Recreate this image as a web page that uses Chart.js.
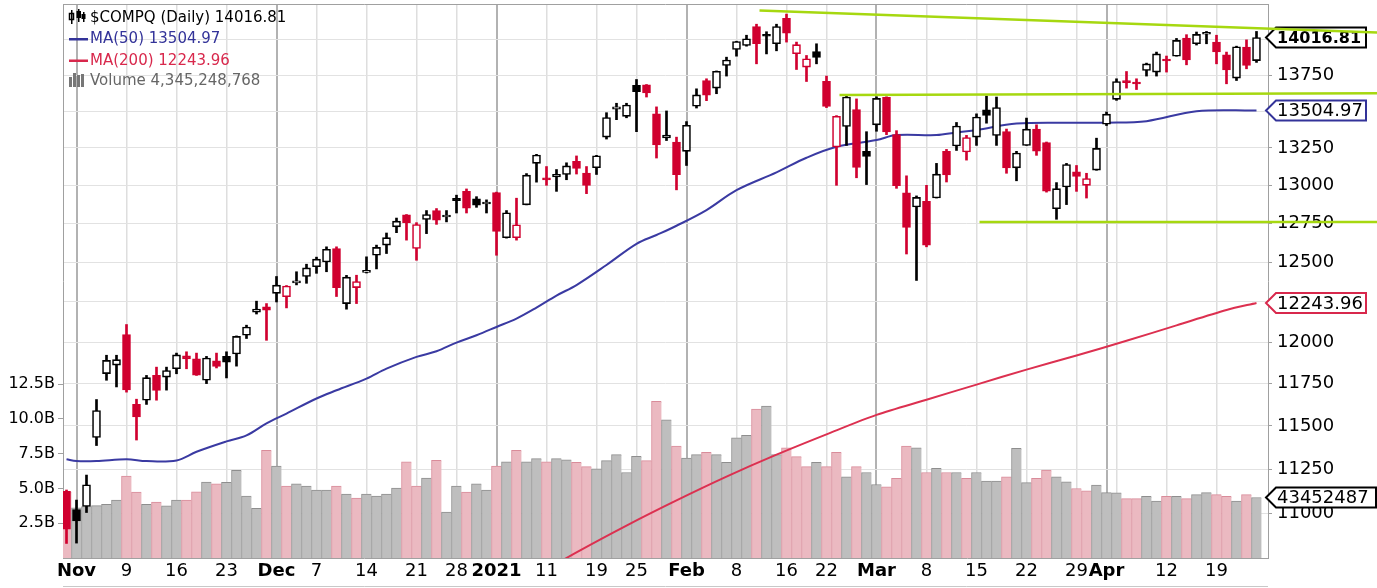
<!DOCTYPE html>
<html>
<head>
<meta charset="utf-8">
<script src="https://cdn.jsdelivr.net/npm/chart.js@4.4.1/dist/chart.umd.min.js"></script>
<style>
html, body { margin: 0; padding: 0; background: #fff; }
#wrap { width: 1377px; height: 588px; }
</style>
</head>
<body>
<div id="wrap"><canvas id="plot"></canvas></div>
<script>
// $COMPQ daily, Oct 30 2020 .. Apr 23 2021 (index -1 = Oct 30, 0 = Nov 2)
const closeBefore = 11185.59;
const opens = [11123, 11020, 11038, 11433, 11811, 11862, 12048, 11627, 11652, 11800,
  11790, 11840, 11918, 11900, 11771, 11888, 11915, 11930, 12044, 12186,
  12220, 12304, 12283, 12370, 12410, 12472, 12502, 12588, 12240, 12340,
  12436, 12545, 12610, 12728, 12806, 12588, 12776, 12834, 12792, 12914,
  12960, 12910, 12877, 12952, 12658, 12658, 12871, 13146, 13040, 13055,
  13072, 13160, 13082, 13117, 13323, 13515, 13465, 13679, 13682, 13482,
  13318, 13290, 13227, 13535, 13713, 13660, 13818, 13931, 13960, 14095,
  14035, 13972, 14155, 13901, 13807, 13917, 13707, 13256, 13396, 13512,
  13227, 13407, 13596, 13340, 12951, 12857, 12894, 12916, 13227, 13263,
  13223, 13323, 13510, 13334, 13360, 13116, 13267, 13378, 13286, 12846,
  12989, 13090, 13000, 13101, 13411, 13582, 13700, 13692, 13783, 13772,
  13852, 13884, 14013, 13972, 14040, 13984, 13894, 13730, 13948, 13853];
const highs = [11131, 11074, 11216, 11656, 11922, 11922, 12110, 11658, 11800, 11850,
  11850, 11935, 11943, 11935, 11915, 11935, 11943, 12040, 12106, 12255,
  12240, 12410, 12353, 12440, 12488, 12533, 12599, 12599, 12417, 12418,
  12535, 12610, 12688, 12785, 12808, 12755, 12834, 12847, 12834, 12935,
  12976, 12925, 12904, 12955, 12834, 12915, 13078, 13207, 13125, 13105,
  13150, 13196, 13125, 13200, 13490, 13555, 13555, 13720, 13685, 13530,
  13502, 13323, 13429, 13655, 13725, 13780, 13877, 13990, 14033, 14112,
  14058, 14112, 14185, 13984, 13889, 13972, 13744, 13470, 13610, 13585,
  13360, 13600, 13600, 13367, 13063, 12930, 13000, 13146, 13240, 13423,
  13335, 13482, 13605, 13598, 13378, 13227, 13453, 13407, 13290, 13018,
  13146, 13132, 13080, 13316, 13495, 13725, 13776, 13725, 13835, 13913,
  13885, 14010, 14037, 14056, 14060, 14033, 13913, 13955, 14000, 14060];
const lows = [10832, 10834, 11004, 11386, 11771, 11731, 11700, 11418, 11627, 11652,
  11712, 11810, 11840, 11800, 11751, 11845, 11785, 11856, 12024, 12175,
  12013, 12250, 12213, 12357, 12367, 12430, 12440, 12284, 12205, 12240,
  12432, 12458, 12556, 12690, 12642, 12513, 12684, 12744, 12760, 12818,
  12818, 12855, 12818, 12545, 12655, 12642, 12871, 13021, 13000, 12960,
  13037, 13075, 12945, 13072, 13310, 13442, 13455, 13360, 13598, 13182,
  13300, 12970, 13132, 13522, 13573, 13621, 13744, 13884, 13955, 13830,
  13900, 13922, 13984, 13790, 13706, 13830, 13525, 13000, 13267, 13050,
  13005, 13363, 13340, 12980, 12553, 12385, 12599, 12916, 13022, 13233,
  13168, 13267, 13418, 13267, 13080, 13030, 13267, 13200, 12955, 12777,
  12873, 12960, 12916, 13100, 13402, 13575, 13660, 13650, 13744, 13744,
  13772, 13884, 13823, 13963, 13972, 13830, 13690, 13713, 13795, 13840];
const closes = [10911.59, 10957.61, 11160.57, 11590.78, 11890.93, 11895.23, 11713.78, 11553.86, 11786.43, 11709.59,
  11829.29, 11924.13, 11899.34, 11801.60, 11904.71, 11854.97, 11880.63, 12036.79, 12094.40, 12205.85,
  12198.74, 12355.11, 12349.37, 12377.18, 12464.23, 12519.95, 12582.77, 12338.95, 12405.81, 12377.87,
  12440.04, 12595.06, 12658.19, 12764.75, 12755.64, 12742.52, 12807.92, 12771.11, 12804.73, 12899.42,
  12850.22, 12870.00, 12888.28, 12698.45, 12818.96, 12740.79, 13067.48, 13201.98, 13036.43, 13072.43,
  13128.95, 13112.64, 12998.50, 13197.18, 13457.25, 13530.92, 13543.06, 13635.99, 13626.07, 13270.60,
  13337.16, 13070.69, 13403.39, 13612.78, 13610.54, 13777.74, 13856.30, 13987.64, 14007.70, 13972.53,
  14025.77, 14095.47, 14047.50, 13965.49, 13865.36, 13874.46, 13533.05, 13465.20, 13597.97, 13119.43,
  13192.35, 13588.83, 13358.79, 12997.75, 12723.47, 12920.15, 12609.16, 13073.82, 13068.83, 13398.67,
  13319.87, 13459.71, 13471.57, 13525.20, 13116.17, 13215.24, 13377.54, 13227.70, 12961.89, 12977.68,
  13138.73, 13059.65, 13045.39, 13246.87, 13480.11, 13705.59, 13698.38, 13688.84, 13829.31, 13900.19,
  13850.00, 13996.10, 13857.84, 14038.76, 14052.34, 13914.77, 13786.27, 13950.22, 13818.41, 14016.81];
// volume, billions of shares
const vols = [4.76, 3.6, 3.7, 3.76, 3.85, 4.17, 5.89, 4.74, 3.85, 4.02,
  3.74, 4.17, 4.17, 4.76, 5.46, 5.32, 5.44, 6.3, 4.45, 3.57,
  7.74, 6.61, 5.17, 5.32, 5.17, 4.88, 4.88, 5.17, 4.6, 4.31,
  4.6, 4.45, 4.6, 5.03, 6.9, 5.17, 5.75, 7.02, 3.3, 5.17,
  4.74, 5.32, 4.88, 6.61, 6.9, 7.74, 6.9, 7.14, 6.9, 7.14,
  7.05, 6.87, 6.57, 6.4, 6.99, 7.43, 6.14, 7.3, 6.99, 11.25,
  9.93, 8.04, 7.18, 7.43, 7.6, 7.43, 6.87, 8.64, 8.81, 10.69,
  10.91, 7.43, 7.91, 7.28, 6.57, 6.87, 6.57, 7.6, 5.84, 6.57,
  6.14, 5.28, 5.11, 5.72, 8.04, 7.91, 6.14, 6.45, 6.14, 6.14,
  5.72, 6.14, 5.53, 5.53, 5.84, 7.87, 5.41, 5.72, 6.31, 5.84,
  5.48, 4.99, 4.82, 5.24, 4.7, 4.68, 4.26, 4.26, 4.43, 4.09,
  4.43, 4.43, 4.26, 4.55, 4.7, 4.55, 4.43, 4.09, 4.55, 4.345248768];

const ma50Idx = [-1, 0, 2, 5, 7, 10, 12, 15, 17, 19, 21, 24, 26, 29, 31, 34, 36, 38, 40, 42, 44, 46, 48, 50,
  53, 56, 58, 60, 63, 66, 70, 73, 76, 80, 82, 86, 88, 90, 94, 100, 103, 107, 112, 118];
const ma50 = [11307, 11296, 11296, 11307, 11296, 11300, 11350, 11410, 11445, 11515, 11573, 11662, 11711, 11781,
  11841, 11912, 11946, 11999, 12044, 12095, 12147, 12215, 12290, 12356, 12483, 12618, 12675, 12735, 12837,
  12968, 13086, 13184, 13258, 13303, 13337, 13337, 13355, 13371, 13416, 13421, 13421, 13432, 13500, 13504.97];
const ma200Idx = [47, 50, 55, 60, 65, 70, 75, 80, 85, 90, 95, 100, 105, 110, 115, 118];
const ma200 = [10689, 10783, 10931, 11072, 11207, 11333, 11451, 11565, 11655, 11745, 11835, 11920, 12010,
  12105, 12200, 12243.96];

// trend lines, in session index / price
const trendX0 = [68.3, 76.3, 90.3];
const trendY0 = [14210, 13612, 12760];
const trendX1 = [130.1, 130.1, 130.1];
const trendY1 = [14053, 13625, 12760];

const tickIdx = [0, 5, 10, 15, 20, 24, 29, 34, 38, 42, 47, 52, 56, 61, 66, 71, 75, 80, 85, 90, 95, 100, 103, 104, 109, 114];
const tickText = ['Nov', '9', '16', '23', 'Dec', '7', '14', '21', '28', '2021', '11', '19', '25', 'Feb', '8', '16', '22',
  'Mar', '8', '15', '22', '29', 'Apr', '', '12', '19'];
const majorTicks = [0, 20, 42, 61, 80, 103];
const priceTicks = [11000, 11250, 11500, 11750, 12000, 12250, 12500, 12750, 13000, 13250, 13500, 13750, 14000];
const priceLabels = [11000, 11250, 11500, 11750, 12000, 12500, 12750, 13000, 13250, 13750];
const volTicks = [2.5, 5, 7.5, 10, 12.5];
const volTickText = ['2.5B', '5.0B', '7.5B', '10.0B', '12.5B'];

const xMin = -1.35, xMax = 119.15;
const priceMin = 10752, priceMax = 14258;
const volMax = 39.8;

const RED = '#d0002f';
const BLACK = '#000';

const prevClose = closes.map((c, k) => k ? closes[k - 1] : closeBefore);
const isDown = closes.map((c, k) => c < prevClose[k]);
const isHollow = closes.map((c, k) => c > opens[k]);
const candleColor = isDown.map(d => d ? RED : BLACK);

function noPad(s) {
    s.paddingTop = 0;
    s.paddingBottom = 0;
    s.paddingLeft = 0;
    s.paddingRight = 0;
}

function drawTag(c, left, y, text, border, font, right, textRight) {
    c.save();
    c.beginPath();
    c.moveTo(left - 2, y);
    c.lineTo(left + 8, y - 10);
    c.lineTo(right, y - 10);
    c.lineTo(right, y + 10);
    c.lineTo(left + 8, y + 10);
    c.closePath();
    c.fillStyle = '#fff';
    c.fill();
    c.lineWidth = 2;
    c.strokeStyle = border;
    c.stroke();
    c.beginPath();
    c.rect(left, y - 10, textRight - left, 20);
    c.clip();
    c.fillStyle = '#000';
    c.font = font;
    c.textBaseline = 'middle';
    c.fillText(text, left + 9, y + 1);
    c.restore();
}

const overlay = {
    id: 'overlay',
    afterDraw(chart) {
        const c = chart.ctx, a = chart.chartArea;
        const xs = chart.scales.x, ys = chart.scales.y, vs = chart.scales.vol;
        const n = closes.length - 1;
        c.save();

        // frame top and bottom rule
        c.strokeStyle = '#a0a0a0';
        c.lineWidth = 1;
        c.beginPath(); c.moveTo(a.left, a.top + 0.5); c.lineTo(a.right, a.top + 0.5); c.stroke();
        c.strokeStyle = '#c8c8c8';
        c.beginPath(); c.moveTo(a.left, 586.5); c.lineTo(a.right, 586.5); c.stroke();

        // value tags on the right axis
        drawTag(c, a.right, ys.getPixelForValue(closes[n]), closes[n].toFixed(2), '#000', 'bold 16px "DejaVu Sans"', 1366, 1366);
        drawTag(c, a.right, ys.getPixelForValue(ma50[ma50.length - 1]), ma50[ma50.length - 1].toFixed(2), '#333399', '18px "DejaVu Sans"', 1366, 1366);
        drawTag(c, a.right, ys.getPixelForValue(ma200[ma200.length - 1]), ma200[ma200.length - 1].toFixed(2), '#d8284c', '18px "DejaVu Sans"', 1366, 1366);
        drawTag(c, a.right, vs.getPixelForValue(vols[n]), String(Math.round(vols[n] * 1e9)), '#000', '18px "DejaVu Sans"', 1376, 1369);

        // trend lines
        c.strokeStyle = '#a6d810';
        c.lineWidth = 2.5;
        for (let k = 0; k < trendX0.length; k++) {
            c.beginPath();
            c.moveTo(xs.getPixelForValue(trendX0[k]), ys.getPixelForValue(trendY0[k]));
            c.lineTo(xs.getPixelForValue(trendX1[k]), ys.getPixelForValue(trendY1[k]));
            c.stroke();
        }

        // legend
        c.font = '15px "DejaVu Sans"';
        c.textBaseline = 'middle';
        c.fillStyle = '#000';
        c.fillRect(71, 10, 1.5, 14);
        c.strokeStyle = '#000'; c.lineWidth = 1.5;
        c.strokeRect(69.5, 13.5, 4, 6);
        c.fillRect(78, 9, 1.5, 13);
        c.fillRect(76.5, 11, 4.5, 7);
        c.fillRect(83, 12, 1.5, 10);
        c.fillRect(81.5, 14, 4, 5);
        c.fillText('$COMPQ (Daily) ' + closes[n].toFixed(2), 90, 18);

        c.fillStyle = '#333399';
        c.fillRect(69, 38, 19, 2.5);
        c.fillText('MA(50) ' + ma50[ma50.length - 1].toFixed(2), 90, 39.5);

        c.fillStyle = '#d8284c';
        c.fillRect(69, 59.5, 19, 2.5);
        c.fillText('MA(200) ' + ma200[ma200.length - 1].toFixed(2), 90, 61);

        c.fillStyle = '#777';
        c.fillRect(69, 77, 3, 10);
        c.fillRect(73, 73, 3, 14);
        c.fillRect(77, 75, 3, 12);
        c.fillRect(81, 74, 3, 13);
        c.fillStyle = '#666';
        c.fillText('Volume ' + Math.round(vols[n] * 1e9).toLocaleString('en-US'), 90, 81);

        c.restore();
    }
};

const ctx = document.getElementById('plot');

var chart = new Chart(ctx, {
    data: {
        datasets: [{
            type: 'bar',
            yAxisID: 'y',
            data: closes.map((cl, k) => ({ x: k - 1, y: [Math.min(opens[k], cl), Math.max(opens[k], cl)] })),
            backgroundColor: isHollow.map((h, k) => h ? '#fff' : candleColor[k]),
            borderColor: candleColor,
            borderWidth: 1.6,
            borderSkipped: false,
            barThickness: 8,
            minBarLength: 2,
            grouped: false,
            order: 0
        }, {
            type: 'bar',
            yAxisID: 'y',
            data: closes.map((cl, k) => ({ x: k - 1, y: [lows[k], highs[k]] })),
            backgroundColor: candleColor,
            borderWidth: 0,
            barThickness: 2,
            grouped: false,
            order: 1
        }, {
            type: 'line',
            yAxisID: 'y',
            data: ma50Idx.map((d, k) => ({ x: d, y: ma50[k] })),
            borderColor: '#3a3aa2',
            borderWidth: 2,
            pointRadius: 0,
            tension: 0.35,
            order: 2
        }, {
            type: 'line',
            yAxisID: 'y',
            data: ma200Idx.map((d, k) => ({ x: d, y: ma200[k] })),
            borderColor: '#dc3050',
            borderWidth: 2,
            pointRadius: 0,
            tension: 0.3,
            order: 2
        }, {
            type: 'bar',
            yAxisID: 'vol',
            data: vols.map((v, k) => ({ x: k - 1, y: v })),
            backgroundColor: isDown.map(d => d ? '#ebb9c1' : '#bebebe'),
            borderColor: isDown.map(d => d ? '#d98c9a' : '#8e8e8e'),
            borderWidth: { top: 1, left: 1, right: 0, bottom: 0 },
            borderSkipped: false,
            barThickness: 10,
            grouped: false,
            order: 3
        }]
    },
    options: {
        responsive: true,
        maintainAspectRatio: false,
        animation: false,
        events: [],
        layout: { padding: { top: 4, left: 0, right: 0, bottom: 0 } },
        plugins: { legend: { display: false }, tooltip: { enabled: false } },
        scales: {
            x: {
                type: 'linear',
                min: xMin,
                max: xMax,
                offset: false,
                afterBuildTicks: s => { s.ticks = tickIdx.map(v => ({ value: v })); },
                afterFit: s => { s.height = 30; noPad(s); },
                ticks: {
                    autoSkip: false,
                    maxRotation: 0,
                    padding: 3,
                    color: '#000',
                    font: c => ({ family: 'DejaVu Sans', size: 18, weight: (c.tick && majorTicks.includes(c.tick.value)) ? 'bold' : 'normal' }),
                    callback: v => tickText[tickIdx.indexOf(v)]
                },
                grid: {
                    offset: false,
                    drawTicks: false,
                    color: c => (c.tick && majorTicks.includes(c.tick.value)) ? '#b2b2b2' : '#dedede',
                    lineWidth: c => (c.tick && majorTicks.includes(c.tick.value)) ? 2 : 1.5
                },
                border: { color: '#a0a0a0' }
            },
            y: {
                type: 'logarithmic',
                position: 'right',
                min: priceMin,
                max: priceMax,
                afterBuildTicks: s => { s.ticks = priceTicks.map(v => ({ value: v })); },
                afterFit: s => { s.width = 109; noPad(s); },
                ticks: {
                    autoSkip: false,
                    padding: 5,
                    color: '#000',
                    font: { family: 'DejaVu Sans', size: 18 },
                    callback: v => priceLabels.includes(v) ? String(v) : ''
                },
                grid: { color: '#e2e2e2', tickLength: 4, tickColor: '#a0a0a0' },
                border: { color: '#a0a0a0' }
            },
            vol: {
                type: 'linear',
                position: 'left',
                min: 0,
                max: volMax,
                afterBuildTicks: s => { s.ticks = volTicks.map(v => ({ value: v })); },
                afterFit: s => { s.width = 63; noPad(s); },
                ticks: {
                    padding: 3,
                    color: '#000',
                    font: { family: 'DejaVu Sans', size: 16 },
                    callback: v => volTickText[volTicks.indexOf(v)]
                },
                grid: { drawOnChartArea: false, tickLength: 5, tickColor: '#a0a0a0' },
                border: { color: '#a0a0a0' }
            }
        }
    },
    plugins: [overlay]
});
</script>
</body>
</html>
